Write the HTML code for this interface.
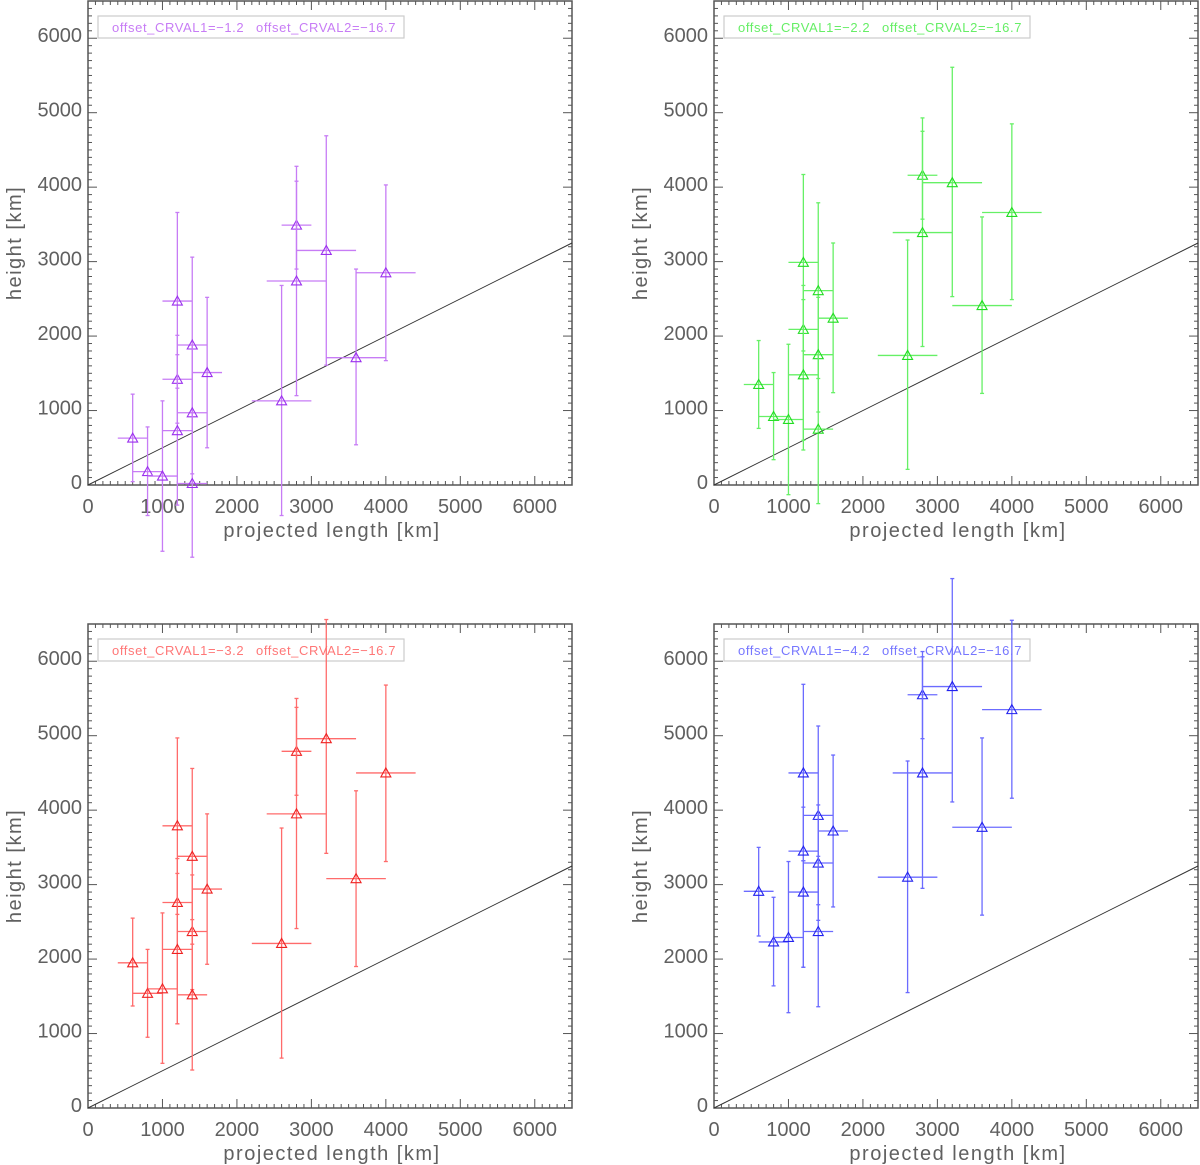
<!DOCTYPE html>
<html><head><meta charset="utf-8"><style>
html,body{margin:0;padding:0;background:#fff;}
svg{display:block;font-family:"Liberation Sans",sans-serif;}
</style></head><body>
<svg id="fig" width="1200" height="1165" viewBox="0 0 1200 1165" xmlns="http://www.w3.org/2000/svg"></svg>
<script>
// shared x data
const xVals = [600,800,1000,1200,1200,1200,1400,1400,1400,1600,2600,2800,2800,3200,3600,4000];
const xErr  = [200,200,200,200,200,200,200,200,200,200,400,200,400,400,400,400];
// purple panel
const yPurple   = [630,180,120,2470,1420,730,1880,970,20,1510,1130,3490,2740,3150,1710,2850];
const loPurple  = [45,-410,-890,1300,830,-270,970,150,-970,500,-410,2900,1200,1610,540,1670];
const hiPurple  = [1220,780,1130,3660,2010,1750,3060,1880,970,2520,2680,4280,4080,4690,2900,4030];
// green panel
const yGreen  = [1350,920,880,2990,2090,1480,2610,1750,750,2240,1740,4160,3390,4060,2410,3660];
const loGreen = [760,340,-130,1800,600,470,1430,980,-250,1240,210,3570,1860,2530,1230,2490];
const hiGreen = [1940,1510,1890,4170,2680,2490,3790,2520,1750,3250,3290,4930,4750,5610,3600,4850];
// red panel
const yRed  = [1950,1540,1600,3790,2760,2130,3380,2370,1520,2940,2210,4790,3950,4960,3080,4500];
const loRed = [1370,950,600,2600,1130,1130,2200,1590,510,1930,670,4200,2410,3420,1900,3310];
const hiRed = [2550,2130,2620,4970,3350,3150,4560,3130,2530,3950,3760,5500,5380,6560,4260,5680];
// blue panel
const yBlue  = [2910,2230,2290,4500,3450,2900,3930,3290,2370,3720,3100,5550,4500,5660,3770,5350];
const loBlue = [2310,1640,1280,3320,1890,1890,2730,2520,1360,2700,1550,4960,2950,4110,2590,4160];
const hiBlue = [3500,2830,3310,5690,4040,3320,5130,4070,3380,4740,4660,6130,6060,7110,4970,6550];
// ticks
const tickLabels = [0,1000,2000,3000,4000,5000,6000];

const NS="http://www.w3.org/2000/svg";
const svg=document.getElementById('fig');
function mk(tag,attrs,parent){const e=document.createElementNS(NS,tag);for(const k in attrs)e.setAttribute(k,attrs[k]);(parent||svg).appendChild(e);return e;}

const panels=[
 {name:'purple',x0:88,y0:1,ys:yPurple,lo:loPurple,hi:hiPurple,bar:'#c77cf5',mk:'#9b30ee',l1:'offset_CRVAL1=\u2212-1.2',l2:'offset_CRVAL2=\u2212-16.7',legTxt:'#c77cf5'},
 {name:'green',x0:714,y0:1,ys:yGreen,lo:loGreen,hi:hiGreen,bar:'#66f066',mk:'#22dd22',l1:'offset_CRVAL1=\u2212-2.2',l2:'offset_CRVAL2=\u2212-16.7',legTxt:'#66ee66'},
 {name:'red',x0:88,y0:624,ys:yRed,lo:loRed,hi:hiRed,bar:'#ff6b6b',mk:'#ee2222',l1:'offset_CRVAL1=\u2212-3.2',l2:'offset_CRVAL2=\u2212-16.7',legTxt:'#ff7777'},
 {name:'blue',x0:714,y0:624,ys:yBlue,lo:loBlue,hi:hiBlue,bar:'#6b6bff',mk:'#2222ee',l1:'offset_CRVAL1=\u2212-4.2',l2:'offset_CRVAL2=\u2212-16.7',legTxt:'#7777ff'}
];
const W=484,H=484,MAX=6500;
const fix=s=>s.replace(/\u2212-/g,'\u2212');

panels.forEach((p,pi)=>{
  const g=mk('g',{});
  
  
  const sx=v=>p.x0+v/MAX*W;
  const sy=v=>p.y0+H-v/MAX*H;
  const ax='#555';
  for(let v=0;v<=MAX;v+=100){
    const major=v%1000===0, L=major?9:4;
    mk('line',{x1:sx(v),x2:sx(v),y1:p.y0+H,y2:p.y0+H-L,stroke:ax,'stroke-width':1},g);
    mk('line',{x1:sx(v),x2:sx(v),y1:p.y0,y2:p.y0+L,stroke:ax,'stroke-width':1},g);
    mk('line',{x1:p.x0,x2:p.x0+L,y1:sy(v),y2:sy(v),stroke:ax,'stroke-width':1},g);
    mk('line',{x1:p.x0+W,x2:p.x0+W-L,y1:sy(v),y2:sy(v),stroke:ax,'stroke-width':1},g);
  }
  const box=mk('rect',{x:p.x0,y:p.y0,width:W,height:H,fill:'none',stroke:ax,'stroke-width':1.5},g);
  
  
  tickLabels.forEach(v=>{
    const t=mk('text',{x:sx(v),y:p.y0+H+28,'text-anchor':'middle','font-size':20,fill:'#606060'},g);
    
    
    t.textContent=v;
    const t2=mk('text',{x:p.x0-6,y:sy(v)+4,'text-anchor':'end','font-size':20,fill:'#606060'},g);
    
    
    t2.textContent=v;
  });
  const xt=mk('text',{x:p.x0+W/2+2,y:p.y0+H+52,'text-anchor':'middle','font-size':20,fill:'#606060','letter-spacing':'1.5'},g);
  
  
  xt.textContent='projected length [km]';
  const yt=mk('text',{x:0,y:0,'text-anchor':'middle','font-size':20,fill:'#606060','letter-spacing':'1.5',transform:`translate(${p.x0-67},${p.y0+H/2}) rotate(-90)`},g);
  
  
  yt.textContent='height [km]';
  const dl=mk('line',{x1:sx(0),y1:sy(0),x2:sx(MAX),y2:sy(MAX/2),stroke:'#333','stroke-width':1},g);
  
  
  const lb=mk('rect',{x:p.x0+10,y:p.y0+15,width:306,height:22,fill:'#fff',stroke:'#ccc','stroke-width':1.2},g);
  
  
  const lt=mk('text',{x:p.x0+24,y:p.y0+31,'font-size':13,fill:p.legTxt,'letter-spacing':'0.6'},g);
  
  
  lt.textContent=fix(p.l1);
  const lt2=mk('text',{x:p.x0+168,y:p.y0+31,'font-size':13,fill:p.legTxt,'letter-spacing':'0.6'},g);
  
  
  lt2.textContent=fix(p.l2);
  xVals.forEach((xv,i)=>{
    const pg=mk('g',{},g);
    
    
    const cx=sx(xv), cy=sy(p.ys[i]);
    mk('line',{x1:cx,x2:cx,y1:sy(p.lo[i]),y2:sy(p.hi[i]),stroke:p.bar,'stroke-width':1.3},pg);
    mk('line',{x1:cx-2,x2:cx+2,y1:sy(p.lo[i]),y2:sy(p.lo[i]),stroke:p.bar,'stroke-width':1.3},pg);
    mk('line',{x1:cx-2,x2:cx+2,y1:sy(p.hi[i]),y2:sy(p.hi[i]),stroke:p.bar,'stroke-width':1.3},pg);
    mk('line',{x1:sx(xv-xErr[i]),x2:sx(xv+xErr[i]),y1:cy,y2:cy,stroke:p.bar,'stroke-width':1.3},pg);
    mk('polygon',{points:`${cx-5},${cy+4} ${cx+5},${cy+4} ${cx},${cy-5}`,fill:'none',stroke:p.mk,'stroke-width':1.1},pg);
  });
});
</script>
</body></html>
